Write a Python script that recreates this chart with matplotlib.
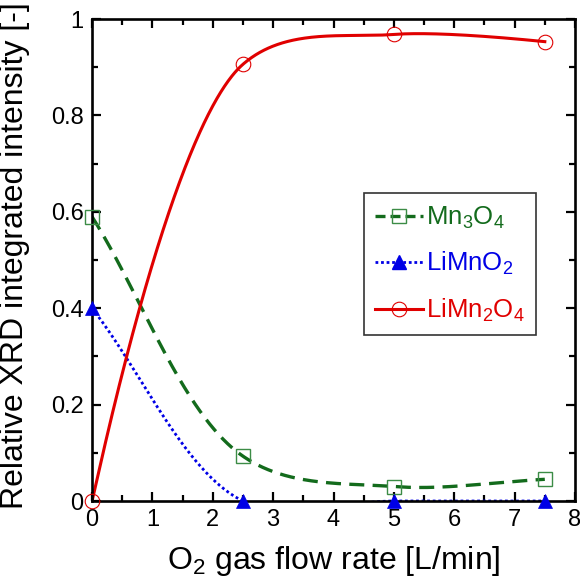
import numpy as np
import matplotlib
matplotlib.use("Agg")
import matplotlib.pyplot as plt
from matplotlib.lines import Line2D

# ── Data ─────────────────────────────────────────────
flow_rate = [0, 2.5, 5, 7.5]                # O2 gas flow rate [L/min]
mn3o4     = [0.59, 0.093, 0.030, 0.045]
limno2    = [0.40, 0.0, 0.0, 0.0]
limn2o4   = [0.0, 0.906, 0.968, 0.953]

x_ticks = [0, 1, 2, 3, 4, 5, 6, 7, 8]
y_ticks = [0, 0.2, 0.4, 0.6, 0.8, 1.0]
y_ticklabels = ["0", "0.2", "0.4", "0.6", "0.8", "1"]

GREEN = "#136b1c"
GREEN_MK = "#3c8c46"
BLUE = "#0000e6"
RED = "#e00000"

plt.rcParams["font.family"] = ["Liberation Sans", "DejaVu Sans"]
plt.rcParams["mathtext.fontset"] = "custom"
plt.rcParams["mathtext.rm"] = "Liberation Sans"
plt.rcParams["mathtext.it"] = "Liberation Sans:italic"

# axes size in pixels, used to smooth the lines in screen space
AX_W, AX_H = 483.0, 482.0


def smooth_line(xs, ys, alpha=0.5, ends="extrap", n=300):
    """Centripetal Catmull-Rom line through the points, built in screen space."""
    sx, sy = AX_W / 8, AX_H
    P = np.column_stack([np.asarray(xs, float) * sx, np.asarray(ys, float) * sy])
    if ends == "extrap":
        P = np.vstack([2 * P[0] - P[1], P, 2 * P[-1] - P[-2]])
    else:  # (almost) repeated end points
        P = np.vstack([P[0] - (P[1] - P[0]) * 1e-3, P, P[-1] + (P[-1] - P[-2]) * 1e-3])
    segs = []
    for i in range(1, len(P) - 2):
        p0, p1, p2, p3 = P[i - 1], P[i], P[i + 1], P[i + 2]
        t0 = 0.0
        t1 = t0 + np.linalg.norm(p1 - p0) ** alpha
        t2 = t1 + np.linalg.norm(p2 - p1) ** alpha
        t3 = t2 + np.linalg.norm(p3 - p2) ** alpha
        t = np.linspace(t1, t2, n)[:, None]
        A1 = (t1 - t) / (t1 - t0) * p0 + (t - t0) / (t1 - t0) * p1
        A2 = (t2 - t) / (t2 - t1) * p1 + (t - t1) / (t2 - t1) * p2
        A3 = (t3 - t) / (t3 - t2) * p2 + (t - t2) / (t3 - t2) * p3
        B1 = (t2 - t) / (t2 - t0) * A1 + (t - t0) / (t2 - t0) * A2
        B2 = (t3 - t) / (t3 - t1) * A2 + (t - t1) / (t3 - t1) * A3
        segs.append((t2 - t) / (t2 - t1) * B1 + (t - t1) / (t2 - t1) * B2)
    C = np.vstack(segs)
    return C[:, 0] / sx, C[:, 1] / sy


fig = plt.figure(figsize=(5.8, 5.88), dpi=100)
ax = fig.add_axes([92 / 580, 1 - 501 / 588, AX_W / 580, AX_H / 588])

# ── Curves ────────────────────────────────────────────
cx, cy = smooth_line(flow_rate, mn3o4)
ax.plot(cx, cy, color=GREEN, lw=2.4, ls=(0, (4.5, 2.5)))
cx, cy = smooth_line(flow_rate, limno2)
ax.plot(cx, cy, color=BLUE, lw=2.0, ls=(0, (1, 1)))
cx, cy = smooth_line(flow_rate, limn2o4, ends="repeat")
ax.plot(cx, cy, color=RED, lw=2.2, ls="-")

# ── Markers ───────────────────────────────────────────
ax.plot(flow_rate, mn3o4, ls="none", marker="s", ms=10, mfc="none",
        mec=GREEN_MK, mew=1.0, clip_on=False, zorder=5)
ax.plot(flow_rate, limno2, ls="none", marker="^", ms=10, mfc=BLUE,
        mec=BLUE, mew=0.5, clip_on=False, zorder=5)
ax.plot(flow_rate, limn2o4, ls="none", marker="o", ms=10.5, mfc="none",
        mec=RED, mew=0.8, clip_on=False, zorder=5)

# ── Axes ──────────────────────────────────────────────
ax.set_xlim(0, 8)
ax.set_ylim(0, 1)
ax.set_xticks(x_ticks)
ax.set_xticks(np.arange(0.5, 8, 1), minor=True)
ax.set_yticks(y_ticks)
ax.set_yticklabels(y_ticklabels)
ax.set_yticks(np.arange(0.1, 1, 0.2), minor=True)
ax.tick_params(which="both", direction="in", top=True, right=True,
               width=1.6, labelsize=17, colors="black")
ax.tick_params(which="major", length=6.5, pad=6)
ax.tick_params(which="minor", length=4)
for sp in ax.spines.values():
    sp.set_linewidth(1.9)

ax.set_xlabel(r"O$_2$ gas flow rate [L/min]", fontsize=23)
ax.xaxis.set_label_coords(0.5, -0.09)
ax.set_ylabel("Relative XRD integrated intensity [-]", fontsize=23)
ax.yaxis.set_label_coords(-0.128, 0.51)

# ── Legend ────────────────────────────────────────────
handles = [
    Line2D([], [], color=GREEN, lw=2.4, ls=(0, (3, 1.5)), marker="s", ms=10,
           mfc="none", mec=GREEN_MK, mew=1.0),
    Line2D([], [], color=BLUE, lw=2.0, ls=(0, (1, 1)), marker="^", ms=10,
           mfc=BLUE, mec=BLUE),
    Line2D([], [], color=RED, lw=2.2, marker="o", ms=10.5, mfc="none",
           mec=RED, mew=0.8),
]
labels = [r"Mn$_3$O$_4$", r"LiMnO$_2$", r"LiMn$_2$O$_4$"]
leg = ax.legend(handles, labels, loc="upper left", bbox_to_anchor=(0.563, 0.639),
                borderaxespad=0, fontsize=18.5, handlelength=1.85, handletextpad=0.1,
                labelspacing=0.75, borderpad=0.45, fancybox=False, framealpha=1,
                edgecolor="#333333")
leg.get_frame().set_linewidth(1.2)
for txt, c in zip(leg.get_texts(), [GREEN, BLUE, RED]):
    txt.set_color(c)

fig.savefig("out.png", dpi=100)
